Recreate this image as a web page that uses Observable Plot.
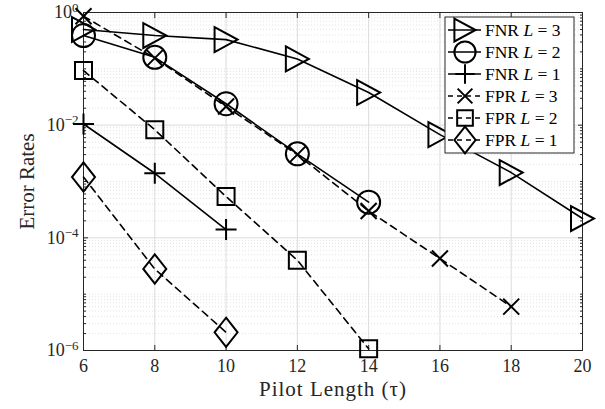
<!DOCTYPE html>
<html><head><meta charset="utf-8">
<script src="https://cdn.jsdelivr.net/npm/d3@7"></script>
<script src="https://cdn.jsdelivr.net/npm/@observablehq/plot@0.6"></script>
<style>body{margin:0;background:#fff} #chart{width:605px;height:409px}</style>
</head><body><div id="chart"></div>
<script>
// ---- data ----
const tauFNR3 = [6, 8, 10, 12, 14, 16, 18, 20];
const fnrL3   = [0.50, 0.39, 0.33, 0.15, 0.038, 0.0068, 0.00144, 0.00022];
const tauFNR2 = [6, 8, 10, 12, 14];
const fnrL2   = [0.39, 0.16, 0.024, 0.0031, 0.00043];
const tauFNR1 = [6, 8, 10];
const fnrL1   = [0.0105, 0.0014, 0.00014];
const tauFPR3 = [6, 8, 10, 12, 14, 16, 18];
const fprL3   = [0.86, 0.155, 0.0214, 0.0030, 0.00030, 0.000043, 0.000006];
const tauFPR2 = [6, 8, 10, 12, 14];
const fprL2   = [0.093, 0.0083, 0.00054, 0.00004, 0.00000107];
const tauFPR1 = [6, 8, 10];
const fprL1   = [0.0012, 0.000028, 0.0000021];
const seriesNames = ["FNR L = 3", "FNR L = 2", "FNR L = 1", "FPR L = 3", "FPR L = 2", "FPR L = 1"];
const xTicks = [6, 8, 10, 12, 14, 16, 18, 20];
const yTicks = [1, 1e-2, 1e-4, 1e-6];

// ---- custom marker symbols (MATLAB-like) ----
const rad = s => Math.sqrt(s / Math.PI);
const symTriRight = {draw(c, s){const r = rad(s); c.moveTo(-r, -1.08*r); c.lineTo(r, 0); c.lineTo(-r, 1.08*r); c.closePath();}};
const symCircle   = {draw(c, s){const r = rad(s); c.moveTo(r, 0); c.arc(0, 0, r, 0, 2*Math.PI); c.closePath();}};
const symPlus     = {draw(c, s){const r = rad(s); c.moveTo(-r, 0); c.lineTo(r, 0); c.moveTo(0, -r); c.lineTo(0, r);}};
const symTimes    = {draw(c, s){const r = rad(s); c.moveTo(-r, -r); c.lineTo(r, r); c.moveTo(r, -r); c.lineTo(-r, r);}};
const symSquare   = {draw(c, s){const r = rad(s); c.rect(-r, -r, 2*r, 2*r);}};
const symDiamond  = {draw(c, s){const r = rad(s); c.moveTo(0, -1.27*r); c.lineTo(r, 0); c.lineTo(0, 1.27*r); c.lineTo(-r, 0); c.closePath();}};

const seriesDefs = [
  {name: seriesNames[0], tau: tauFNR3, val: fnrL3, sym: symTriRight, r: 11.5, dashed: false},
  {name: seriesNames[1], tau: tauFNR2, val: fnrL2, sym: symCircle,   r: 11.5, dashed: false},
  {name: seriesNames[2], tau: tauFNR1, val: fnrL1, sym: symPlus,     r: 10.5, dashed: false},
  {name: seriesNames[3], tau: tauFPR3, val: fprL3, sym: symTimes,    r: 8,    dashed: true},
  {name: seriesNames[4], tau: tauFPR2, val: fprL2, sym: symSquare,   r: 8.5,  dashed: true},
  {name: seriesNames[5], tau: tauFPR1, val: fprL1, sym: symDiamond,  r: 11.5, dashed: true}
];
const rows = s => s.tau.map((t, i) => ({tau: t, v: s.val[i], name: s.name}));

const minorY = [];
for (let e = -6; e < 0; e++) for (let k = 2; k <= 9; k++) minorY.push(k * Math.pow(10, e));
[1e-1, 1e-3, 1e-5].forEach(v => minorY.push(v));

const axisCol = "#262626";
const gridCol = "#dcdcdc";
const dash = "7,5";

const marks = [
  Plot.gridY(minorY, {stroke: gridCol, strokeOpacity: 1, strokeDasharray: "1,2", strokeWidth: 0.8}),
  Plot.gridY(yTicks, {stroke: gridCol, strokeOpacity: 1, strokeWidth: 1}),
  Plot.gridX(xTicks, {stroke: gridCol, strokeOpacity: 1, strokeWidth: 1}),
  // tick labels
  Plot.axisX(xTicks, {anchor: "bottom", tickSize: 0, tickPadding: 9, label: "Pilot Length (τ)", labelAnchor: "center", labelArrow: "none", labelOffset: 45, color: axisCol}),
  Plot.axisY(yTicks, {anchor: "left", tickSize: 0, tickPadding: 5, tickFormat: d => "10^" + Math.round(Math.log10(d)), label: "Error Rates", labelAnchor: "center", labelArrow: "none", labelOffset: 64, color: axisCol}),
  // inside ticks
  Plot.axisX(xTicks, {anchor: "bottom", tickSize: 5, dy: -5, tickFormat: () => "", label: null, stroke: axisCol}),
  Plot.axisX(xTicks, {anchor: "top", tickSize: 5, dy: 5, tickFormat: () => "", label: null, stroke: axisCol}),
  Plot.axisY(yTicks, {anchor: "left", tickSize: 5, dx: 5, tickFormat: () => "", label: null, stroke: axisCol}),
  Plot.axisY(yTicks, {anchor: "right", tickSize: 5, dx: -5, tickFormat: () => "", label: null, stroke: axisCol}),
  Plot.axisY(minorY, {anchor: "left", tickSize: 3, dx: 3, tickFormat: () => "", label: null, stroke: axisCol}),
  Plot.axisY(minorY, {anchor: "right", tickSize: 3, dx: -3, tickFormat: () => "", label: null, stroke: axisCol}),
  Plot.frame({stroke: axisCol, strokeWidth: 1})
];
for (const s of seriesDefs) {
  marks.push(Plot.line(rows(s), {x: "tau", y: "v", stroke: "black", strokeWidth: 1.6, strokeDasharray: s.dashed ? dash : null}));
}
for (const s of seriesDefs) {
  marks.push(Plot.dot(rows(s), {x: "tau", y: "v", symbol: s.sym, r: s.r, stroke: "black", fill: "none", strokeWidth: 2}));
}

const chart = Plot.plot({
  width: 605, height: 409,
  marginLeft: 83, marginRight: 23, marginTop: 12, marginBottom: 59,
  style: {fontFamily: "'Liberation Serif', serif", fontSize: "15px", color: axisCol, background: "#fff"},
  x: {domain: [6, 20]},
  y: {type: "log", domain: [1e-6, 1]},
  marks
});
document.getElementById("chart").appendChild(chart);

const svg = d3.select(chart);
const serif = "'Liberation Serif', serif";
// tick label sizes
svg.selectAll('g[aria-label="x-axis tick label"] text, g[aria-label="y-axis tick label"] text')
  .style("font-size", "18px").style("font-family", serif).attr("fill", axisCol);
// superscript tick labels
svg.selectAll('g[aria-label="y-axis tick label"] text').each(function() {
  const t = d3.select(this);
  const txt = t.text();
  if (!txt.startsWith("10^")) return;
  const e = txt.slice(3).replace("-", "\u2212");
  t.text(null);
  t.append("tspan").text("10");
  t.append("tspan").attr("dy", "-0.5em").style("font-size", "13px").text(e);
});
svg.selectAll('g[aria-label="x-axis label"] text, g[aria-label="y-axis label"] text')
  .style("font-size", "21px").style("font-family", serif).attr("fill", axisCol);
svg.selectAll('g[aria-label="x-axis label"] text').style("letter-spacing", "1px");

// legend
const lg = svg.append("g").style("font-family", serif).style("font-size", "17.5px").attr("text-anchor", "start");
const lx = 445, ly = 17, lw = 129, lh = 136, rowH = 22;
lg.append("rect").attr("x", lx).attr("y", ly).attr("width", lw).attr("height", lh).attr("fill", "#fff").attr("stroke", axisCol).attr("stroke-width", 1);
seriesDefs.forEach((s, i) => {
  const cy = ly + 13 + i * rowH;
  lg.append("line").attr("x1", lx + 3).attr("x2", lx + 36).attr("y1", cy).attr("y2", cy)
    .attr("stroke", "black").attr("stroke-width", 1.6).attr("stroke-dasharray", s.dashed ? "5,4" : null);
  lg.append("path").attr("transform", `translate(${lx + 20},${cy})`)
    .attr("d", d3.symbol().type(s.sym).size(Math.PI * s.r * s.r * 0.85)())
    .attr("fill", "none").attr("stroke", "black").attr("stroke-width", 2);
  const parts = s.name.split(" L ");
  const t = lg.append("text").attr("x", lx + 40).attr("y", cy).attr("dy", "0.35em").attr("fill", "black");
  t.append("tspan").text(parts[0] + " ");
  t.append("tspan").attr("font-style", "italic").text("L");
  t.append("tspan").text(" " + parts[1]);
});
</script>
</body></html>
